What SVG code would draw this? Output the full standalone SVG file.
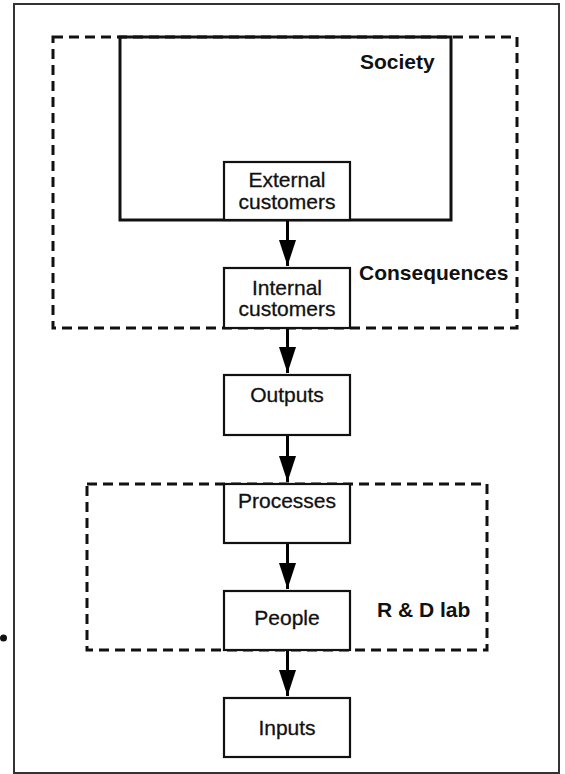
<svg xmlns="http://www.w3.org/2000/svg" width="565" height="774" viewBox="0 0 565 774">
  <defs>
    <marker id="arrowhead" viewBox="0 0 26 17" refX="26" refY="8.5" markerWidth="26" markerHeight="17" markerUnits="userSpaceOnUse" orient="auto">
      <path d="M0,0 L26,8.5 L0,17 Z" fill="#000"/>
    </marker>
  </defs>
  <style>
    .frame { fill: none; stroke: #333; stroke-width: 2; }
    .box { fill: #fff; stroke: #111; stroke-width: 2.2; }
    .region { fill: none; stroke: #111; stroke-width: 3; }
    .dashed { fill: none; stroke: #111; stroke-width: 3; stroke-dasharray: 10 6; }
    .label { font-family: "Liberation Sans", Arial, sans-serif; font-size: 21px; fill: #111; stroke: #111; stroke-width: 0.3; text-anchor: middle; }
    .group-label { font-family: "Liberation Sans", Arial, sans-serif; font-size: 21px; font-weight: bold; fill: #111; }
    .conn { stroke: #000; stroke-width: 3; fill: none; }
  </style>

  <rect width="565" height="774" fill="#fff"/>
  <rect class="frame" x="14" y="4" width="545" height="769"/>
  <circle cx="3.5" cy="638" r="3.5" fill="#111"/>

  <!-- Consequences: dashed boundary -->
  <g id="consequences">
    <rect class="dashed" x="53" y="37" width="464" height="291"/>
    <text class="group-label" x="359" y="280">Consequences</text>
  </g>

  <!-- Society: solid boundary -->
  <g id="society">
    <rect class="region" x="120" y="37" width="331" height="183"/>
    <text class="group-label" x="360" y="69">Society</text>
  </g>

  <!-- R & D lab: dashed boundary -->
  <g id="rd-lab">
    <rect class="dashed" x="87" y="484" width="400" height="166"/>
    <text class="group-label" x="377" y="617">R &amp; D lab</text>
  </g>

  <g id="external-customers">
    <rect class="box" x="224" y="162" width="126" height="58"/>
    <text class="label" x="287" y="187">External</text>
    <text class="label" x="287" y="209">customers</text>
  </g>

  <g id="internal-customers">
    <rect class="box" x="224" y="268" width="126" height="60"/>
    <text class="label" x="287" y="295">Internal</text>
    <text class="label" x="287" y="316">customers</text>
  </g>

  <g id="outputs">
    <rect class="box" x="224" y="375" width="126" height="60"/>
    <text class="label" x="287" y="402">Outputs</text>
  </g>

  <g id="processes">
    <rect class="box" x="224" y="484" width="126" height="59"/>
    <text class="label" x="287" y="508">Processes</text>
  </g>

  <g id="people">
    <rect class="box" x="224" y="591" width="126" height="59"/>
    <text class="label" x="287" y="625">People</text>
  </g>

  <g id="inputs">
    <rect class="box" x="224" y="698" width="126" height="59"/>
    <text class="label" x="287" y="735">Inputs</text>
  </g>

  <!-- Connectors -->
  <g id="connectors">
    <line class="conn" x1="287.5" y1="221" x2="287.5" y2="266" marker-end="url(#arrowhead)"/>
    <line class="conn" x1="287.5" y1="329" x2="287.5" y2="373" marker-end="url(#arrowhead)"/>
    <line class="conn" x1="287.5" y1="436" x2="287.5" y2="482" marker-end="url(#arrowhead)"/>
    <line class="conn" x1="287.5" y1="544" x2="287.5" y2="589" marker-end="url(#arrowhead)"/>
    <line class="conn" x1="287.5" y1="651" x2="287.5" y2="696" marker-end="url(#arrowhead)"/>
  </g>
</svg>
